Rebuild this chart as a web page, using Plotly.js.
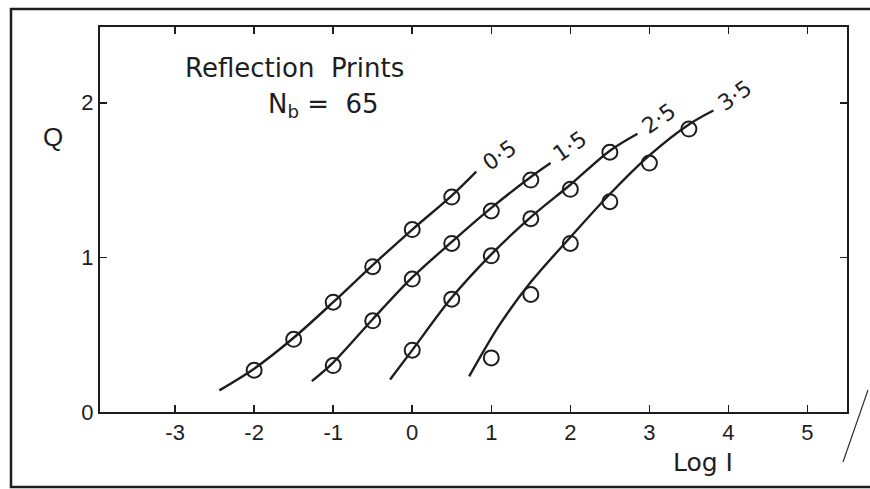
<!DOCTYPE html>
<html>
<head>
<meta charset="utf-8">
<script src="https://cdn.plot.ly/plotly-3.0.1.min.js"></script>
<style>html,body{margin:0;padding:0;background:#fff;}#chart{width:870px;height:489px;}</style>
</head>
<body>
<div id="chart"></div>
<script>
// Measured points (open circles)
const ptsX_05 = [-2.0, -1.5, -1.0, -0.5, 0.0, 0.5];
const ptsY_05 = [0.27, 0.47, 0.71, 0.94, 1.18, 1.39];
const ptsX_15 = [-1.0, -0.5, 0.0, 0.5, 1.0, 1.5];
const ptsY_15 = [0.30, 0.59, 0.86, 1.09, 1.30, 1.50];
const ptsX_25 = [0.0, 0.5, 1.0, 1.5, 2.0, 2.5];
const ptsY_25 = [0.40, 0.73, 1.01, 1.25, 1.44, 1.68];
const ptsX_35 = [1.0, 1.5, 2.0, 2.5, 3.0, 3.5];
const ptsY_35 = [0.35, 0.76, 1.09, 1.36, 1.61, 1.83];

// Fitted curves
const curveX_05 = [-2.44, -2.0, -1.5, -1.0, -0.5, 0.0, 0.5, 0.81];
const curveY_05 = [0.14, 0.28, 0.48, 0.71, 0.95, 1.18, 1.40, 1.555];
const curveX_15 = [-1.27, -1.0, -0.5, 0.0, 0.5, 1.0, 1.5, 1.75];
const curveY_15 = [0.20, 0.32, 0.60, 0.87, 1.10, 1.32, 1.52, 1.61];
const curveX_25 = [-0.28, 0.0, 0.5, 1.0, 1.5, 2.0, 2.5, 2.85];
const curveY_25 = [0.21, 0.40, 0.74, 1.02, 1.26, 1.47, 1.69, 1.80];
const curveX_35 = [0.72, 1.1, 1.5, 2.0, 2.5, 3.0, 3.5, 3.81];
const curveY_35 = [0.23, 0.56, 0.84, 1.13, 1.41, 1.66, 1.86, 1.95];

const curveLabels = ['0·5', '1·5', '2·5', '3·5'];
const labelX = [1.10, 1.99, 3.12, 4.08];
const labelY = [1.66, 1.72, 1.90, 2.05];

const xTickVals = [-3, -2, -1, 0, 1, 2, 3, 4, 5];
const xTickText = ['-3', '-2', '-1', '0', '1', '2', '3', '4', '5'];
const yTickVals = [0, 1, 2];
const yTickText = ['0', '1', '2'];

const INK = '#1e1e1e';
const FONT = 'Liberation Sans, Arial, sans-serif';
const TFONT = 'DejaVu Sans, Liberation Sans, sans-serif';

const series = [
  [curveX_05, curveY_05, ptsX_05, ptsY_05],
  [curveX_15, curveY_15, ptsX_15, ptsY_15],
  [curveX_25, curveY_25, ptsX_25, ptsY_25],
  [curveX_35, curveY_35, ptsX_35, ptsY_35]
];

const traces = [];
series.forEach(s => {
  traces.push({x: s[0], y: s[1], mode: 'lines', type: 'scatter',
    line: {color: INK, width: 2.4, shape: 'spline', smoothing: 0.9},
    hoverinfo: 'skip', showlegend: false});
  traces.push({x: s[2], y: s[3], mode: 'markers', type: 'scatter',
    marker: {symbol: 'circle-open', size: 15, color: INK, line: {width: 2, color: INK}},
    showlegend: false});
});

const annotations = curveLabels.map((t, i) => ({
  x: labelX[i], y: labelY[i], xref: 'x', yref: 'y', text: t, showarrow: false,
  textangle: -35, font: {family: TFONT, size: 22, color: INK}
}));
annotations.push({xref: 'paper', yref: 'paper', x: (294 - 100) / 747, y: (412 - 68) / 385,
  text: 'Reflection  Prints', showarrow: false, xanchor: 'center', yanchor: 'middle',
  font: {family: TFONT, size: 26, color: INK}});
annotations.push({xref: 'paper', yref: 'paper', x: (323 - 100) / 747, y: (412 - 106) / 385,
  text: 'N<sub>b</sub> =  65', showarrow: false, xanchor: 'center', yanchor: 'middle',
  font: {family: TFONT, size: 26, color: INK}});
annotations.push({xref: 'paper', yref: 'paper', x: (53 - 100) / 747, y: (412 - 137) / 385,
  text: 'Q', showarrow: false, xanchor: 'center', yanchor: 'middle',
  font: {family: FONT, size: 26, color: INK}});
annotations.push({xref: 'paper', yref: 'paper', x: (703 - 100) / 747, y: (412 - 462) / 385,
  text: 'Log I', showarrow: false, xanchor: 'center', yanchor: 'middle',
  font: {family: TFONT, size: 25, color: INK}});

const layout = {
  width: 870, height: 489,
  margin: {l: 100, r: 23, t: 27, b: 77},
  paper_bgcolor: '#fff', plot_bgcolor: '#fff',
  showlegend: false,
  xaxis: {range: [-3.95, 5.5], tickvals: xTickVals, ticktext: xTickText,
    ticks: 'inside', ticklen: 7, tickwidth: 1.5, tickcolor: INK,
    showline: true, linecolor: INK, linewidth: 2, mirror: 'ticks',
    showgrid: false, zeroline: false,
    tickfont: {family: FONT, size: 22, color: INK}},
  yaxis: {range: [0, 2.49], tickvals: yTickVals, ticktext: yTickText,
    ticks: 'inside', ticklen: 7, tickwidth: 1.5, tickcolor: INK,
    showline: true, linecolor: INK, linewidth: 2, mirror: 'ticks',
    showgrid: false, zeroline: false,
    tickfont: {family: FONT, size: 22, color: INK}},
  annotations: annotations,
  shapes: [
    {type: 'rect', xref: 'paper', yref: 'paper',
      x0: (11 - 100) / 747, x1: (885 - 100) / 747, y0: (412 - 487) / 385, y1: (412 - 9) / 385,
      line: {color: INK, width: 2.5}},
    {type: 'line', xref: 'paper', yref: 'paper',
      x0: (868 - 100) / 747, y0: (412 - 390) / 385, x1: (843 - 100) / 747, y1: (412 - 462) / 385,
      line: {color: '#333', width: 1.2}}
  ]
};

Plotly.newPlot('chart', traces, layout, {staticPlot: true, displayModeBar: false});
</script>
</body>
</html>
